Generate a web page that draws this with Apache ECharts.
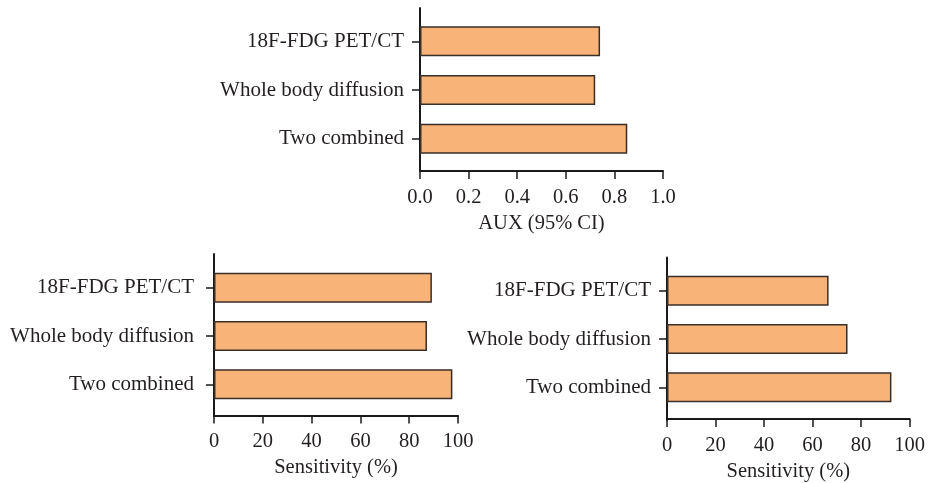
<!DOCTYPE html>
<html>
<head>
<meta charset="utf-8">
<script src="https://cdn.jsdelivr.net/npm/echarts@6/dist/echarts.min.js"></script>
<style>
  html, body { margin: 0; padding: 0; background: #fff; }
  #chart { width: 928px; height: 483px; }
</style>
</head>
<body>
<div id="chart"></div>
<script>
// ---- data ----
const categories = ['18F-FDG PET/CT', 'Whole body diffusion', 'Two combined'];
const aucValues = [0.741, 0.721, 0.853];
const sensitivityLeft = [89.3, 87.3, 97.7];
const sensitivityRight = [66.6, 74.4, 92.5];
const aucTicks = { min: 0, max: 1, interval: 0.2 };
const pctTicks = { min: 0, max: 100, interval: 20 };
const aucName = 'AUX (95% CI)';
const pctName = 'Sensitivity (%)';

// ---- styles ----
const FONT = 'Liberation Serif';
const TEXT = '#231f20';
const AXIS = '#1a1a1a';
const FILL = '#f8b378';
const EDGE = '#3a2e28';

const panels = [
  { values: aucValues, ticks: aucTicks, name: aucName, fmt: v => v.toFixed(1),
    left: 420, width: 243, top: 17, height: 146, offset: 8, lineTop: 8, lineH: 163, labMargin: 16 },
  { values: sensitivityLeft, ticks: pctTicks, name: pctName, fmt: v => String(v),
    left: 214, width: 244, top: 263.5, height: 145, offset: 7, lineTop: 254, lineH: 162, labMargin: 20 },
  { values: sensitivityRight, ticks: pctTicks, name: pctName, fmt: v => String(v),
    left: 667, width: 243, top: 266.5, height: 146, offset: 7.5, lineTop: 257.5, lineH: 162.5, labMargin: 16 }
];

const grid = [], xAxis = [], yAxis = [], series = [];
panels.forEach((p, i) => {
  grid.push({ left: p.left, top: p.top, width: p.width, height: p.height, containLabel: false });
  grid.push({ left: p.left, top: p.lineTop, width: p.width, height: p.lineH, containLabel: false });
  const g = i * 2;
  xAxis.push({
    type: 'value', gridIndex: g, min: p.ticks.min, max: p.ticks.max, interval: p.ticks.interval,
    offset: p.offset,
    name: p.name, nameLocation: 'middle', nameGap: 42,
    nameTextStyle: { fontFamily: FONT, fontSize: 20.5, color: TEXT },
    axisLine: { show: true, lineStyle: { color: AXIS, width: 2 } },
    axisTick: { show: true, length: 8, lineStyle: { color: AXIS, width: 1.5 } },
    axisLabel: { formatter: p.fmt, margin: 16, fontFamily: FONT, fontSize: 20.5, color: TEXT },
    splitLine: { show: false }
  });
  xAxis.push({ type: 'value', gridIndex: g + 1, show: false, min: 0, max: 1 });
  yAxis.push({
    type: 'category', gridIndex: g, data: categories, inverse: true,
    axisLine: { show: false },
    axisTick: { show: true, alignWithLabel: true, length: 8, lineStyle: { color: AXIS, width: 1.5 } },
    axisLabel: { margin: p.labMargin, fontFamily: FONT, fontSize: 21, color: TEXT }
  });
  yAxis.push({
    type: 'value', gridIndex: g + 1, min: 0, max: 1,
    axisLine: { show: true, lineStyle: { color: AXIS, width: 2 } },
    axisTick: { show: false }, axisLabel: { show: false }, splitLine: { show: false }
  });
  series.push({
    type: 'bar', xAxisIndex: g, yAxisIndex: g, data: p.values, barWidth: 30,
    itemStyle: { color: FILL, borderColor: EDGE, borderWidth: 1.5 },
    silent: true
  });
});

const chart = echarts.init(document.getElementById('chart'), null, { renderer: 'canvas' });
chart.setOption({ animation: false, backgroundColor: '#ffffff', grid, xAxis, yAxis, series });
</script>
</body>
</html>
